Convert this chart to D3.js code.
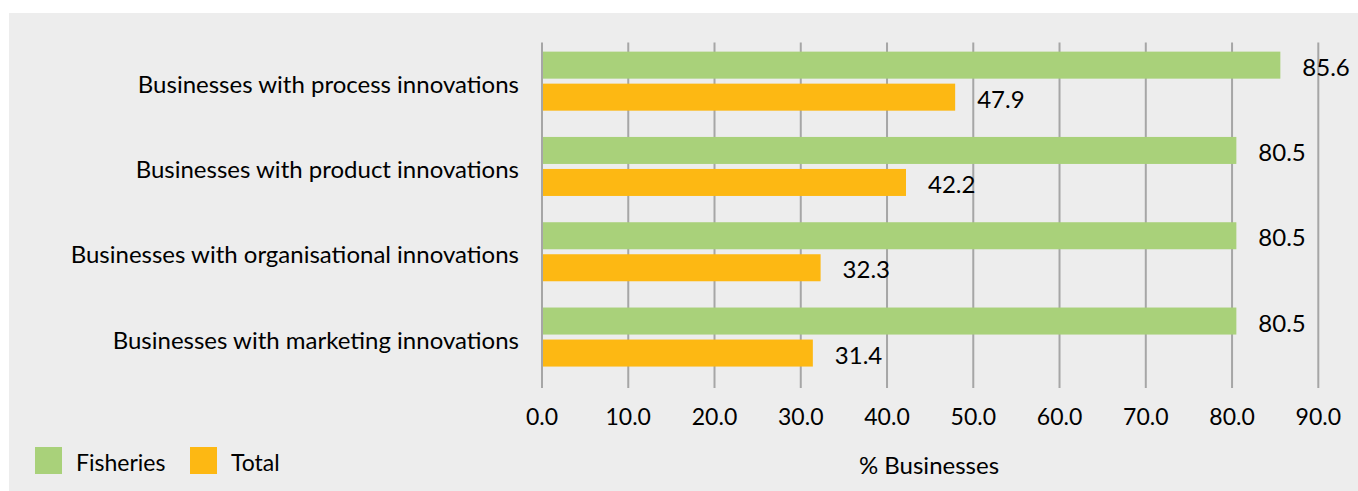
<!DOCTYPE html>
<html>
<head>
<meta charset="utf-8">
<script src="https://cdn.jsdelivr.net/npm/d3@7"></script>
<style>
  html, body { margin: 0; padding: 0; background: #ffffff; }
  svg { display: block; }
  text { font-family: Futura, "Century Gothic", Lato, sans-serif; fill: #000; }
</style>
</head>
<body>
<svg id="chart" width="1358" height="491"></svg>
<script>
// Share of businesses reporting each type of innovation
const categories = [
  "Businesses with process innovations",
  "Businesses with product innovations",
  "Businesses with organisational innovations",
  "Businesses with marketing innovations"
];
const seriesNames = ["Fisheries", "Total"];
const fisheries = [85.6, 80.5, 80.5, 80.5];
const total = [47.9, 42.2, 32.3, 31.4];
const xTicks = [0, 10, 20, 30, 40, 50, 60, 70, 80, 90];
const axisTitle = "% Businesses";
const colors = ["#a9d17a", "#fdb813"];

const seriesValues = [fisheries, total];
const rows = categories.map((c, i) => ({
  category: c,
  values: seriesNames.map((s, j) => ({ series: s, value: seriesValues[j][i] }))
}));

const svg = d3.select("#chart");
const W = 1358, H = 491;

// panel background
svg.append("rect")
  .attr("x", 9).attr("y", 13)
  .attr("width", W - 9).attr("height", H - 13)
  .attr("fill", "#ededed");

const plot = { left: 542, right: 1318.3, top: 42.5, bottom: 388 };

const x = d3.scaleLinear().domain([0, 90]).range([plot.left, plot.right]);

const y = d3.scaleBand()
  .domain(categories)
  .range([38.5, 379.7])
  .paddingInner(0.308)
  .paddingOuter(0.154);

const ySub = d3.scaleBand()
  .domain(seriesNames)
  .range([0, y.bandwidth()])
  .paddingInner(0.156)
  .paddingOuter(0);

const color = d3.scaleOrdinal().domain(seriesNames).range(colors);

// vertical gridlines
svg.append("g")
  .selectAll("line")
  .data(xTicks)
  .join("line")
  .attr("x1", d => x(d)).attr("x2", d => x(d))
  .attr("y1", plot.top).attr("y2", plot.bottom)
  .attr("stroke", "#a6a6a6")
  .attr("stroke-width", 2);

// x tick labels
svg.append("g")
  .selectAll("text")
  .data(xTicks)
  .join("text")
  .attr("x", d => x(d))
  .attr("y", 416)
  .attr("text-anchor", "middle")
  .attr("dominant-baseline", "central")
  .style("font-size", "23px")
  .text(d => d3.format(".1f")(d));

// axis title
svg.append("text")
  .attr("x", 929)
  .attr("y", 464)
  .attr("text-anchor", "middle")
  .attr("dominant-baseline", "central")
  .style("font-size", "24px")
  .text(axisTitle);

// bar groups
const groups = svg.append("g")
  .selectAll("g")
  .data(rows)
  .join("g")
  .attr("transform", d => `translate(0,${y(d.category)})`);

groups.selectAll("rect")
  .data(d => d.values)
  .join("rect")
  .attr("x", x(0) + 1)
  .attr("y", d => ySub(d.series))
  .attr("width", d => x(d.value) - x(0) - 1)
  .attr("height", ySub.bandwidth())
  .attr("fill", d => color(d.series));

// value labels
groups.selectAll("text.value")
  .data(d => d.values)
  .join("text")
  .attr("class", "value")
  .attr("x", d => x(d.value) + 22)
  .attr("y", d => ySub(d.series) + ySub.bandwidth() / 2 + 1)
  .attr("dominant-baseline", "central")
  .style("font-size", "24px")
  .text(d => d3.format(".1f")(d.value));

// category labels
svg.append("g")
  .selectAll("text")
  .data(categories)
  .join("text")
  .attr("x", 519)
  .attr("y", d => y(d) + y.bandwidth() / 2 + 2)
  .attr("text-anchor", "end")
  .attr("dominant-baseline", "central")
  .style("font-size", "24px")
  .text(d => d);

// legend
const legend = svg.append("g")
  .selectAll("g")
  .data(seriesNames)
  .join("g")
  .attr("transform", (d, i) => `translate(${[35, 190][i]},447)`);

legend.append("rect")
  .attr("width", 27).attr("height", 27)
  .attr("fill", d => color(d));

legend.append("text")
  .attr("x", 41)
  .attr("y", 14.5)
  .attr("dominant-baseline", "central")
  .style("font-size", "23px")
  .text(d => d);
</script>
</body>
</html>
